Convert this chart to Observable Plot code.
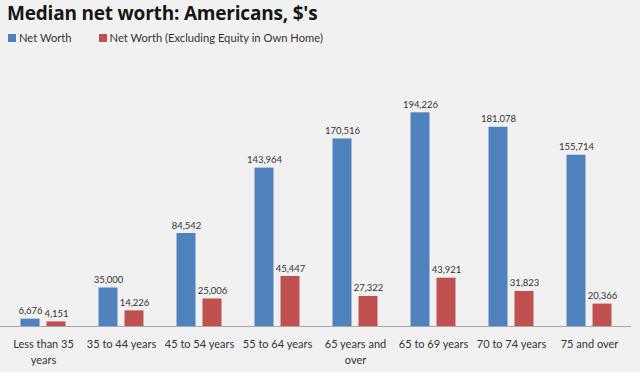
<!DOCTYPE html>
<html>
<head>
<meta charset="utf-8">
<script src="https://cdn.jsdelivr.net/npm/d3@7"></script>
<script src="https://cdn.jsdelivr.net/npm/@observablehq/plot@0.6"></script>
<style>
  html, body { margin: 0; padding: 0; background: #f1f1f1; }
  body { width: 640px; height: 372px; overflow: hidden; font-family: Lato, "Open Sans", sans-serif; }
  #title { position: absolute; left: 7px; top: 2px; line-height: 22px; font-family: "Open Sans", sans-serif; font-size: 19px; font-weight: bold; color: #151515; letter-spacing: -0.2px; white-space: nowrap; }
  #legend { position: absolute; left: 8px; top: 31px; font-size: 11.2px; color: #333; display: flex; align-items: center; }
  .item { display: flex; align-items: center; margin-right: 27px; }
  .sw { width: 8px; height: 8px; margin-right: 3px; }
  #chart { position: absolute; left: 0; top: 50px; }
</style>
</head>
<body>
<div id="title">Median net worth: Americans, $'s</div>
<div id="legend"></div>
<div id="chart"></div>
<script>
const categories = ["Less than 35 years", "35 to 44 years", "45 to 54 years", "55 to 64 years", "65 years and over", "65 to 69 years", "70 to 74 years", "75 and over"];
const netWorth = [6676, 35000, 84542, 143964, 170516, 194226, 181078, 155714];
const netWorthExHome = [4151, 14226, 25006, 45447, 27322, 43921, 31823, 20366];
const tickLabels = ["Less than 35\nyears", "35 to 44 years", "45 to 54 years", "55 to 64 years", "65 years and\nover", "65 to 69 years", "70 to 74 years", "75 and over"];
const seriesNames = ["Net Worth", "Net Worth (Excluding Equity in Own Home)"];
const seriesColors = ["#4f81bd", "#c0504d"];

const blue = categories.map((c, i) => ({category: c, value: netWorth[i]}));
const red = categories.map((c, i) => ({category: c, value: netWorthExHome[i]}));
const fmt = d3.format(",");
const labelOf = new Map(categories.map((c, i) => [c, tickLabels[i]]));

const legend = document.getElementById("legend");
seriesNames.forEach((n, i) => {
  const it = document.createElement("div");
  it.className = "item";
  it.innerHTML = `<span class="sw" style="background:${seriesColors[i]}"></span><span>${n}</span>`;
  legend.appendChild(it);
});

const chart = Plot.plot({
  width: 640,
  height: 322,
  marginLeft: 0,
  marginRight: 9,
  marginTop: 56,
  marginBottom: 46,
  style: {background: "transparent", fontFamily: "Lato, 'Open Sans', sans-serif"},
  x: {domain: categories, padding: 0, axis: null},
  y: {domain: [0, 200000], axis: null},
  marks: [
    Plot.barY(blue, {x: "category", y: "value", fill: seriesColors[0], insetLeft: 16.5, insetRight: 42.5}),
    Plot.barY(red, {x: "category", y: "value", fill: seriesColors[1], insetLeft: 42.5, insetRight: 16.5}),
    Plot.text(blue, {x: "category", y: "value", text: d => fmt(d.value), dx: -13, dy: -5, lineAnchor: "bottom", fontSize: 9.5, fill: "#333"}),
    Plot.text(red, {x: "category", y: "value", text: d => fmt(d.value), dx: 13, dy: -5, lineAnchor: "bottom", fontSize: 9.5, fill: "#333"}),
    Plot.ruleY([0], {stroke: "#a6a6a6", strokeWidth: 1}),
    Plot.axisX({tickSize: 0, tickPadding: 10, fontSize: 11, lineHeight: 1.45, tickFormat: d => labelOf.get(d), fill: "#333", label: null})
  ]
});
document.getElementById("chart").appendChild(chart);
</script>
</body>
</html>
